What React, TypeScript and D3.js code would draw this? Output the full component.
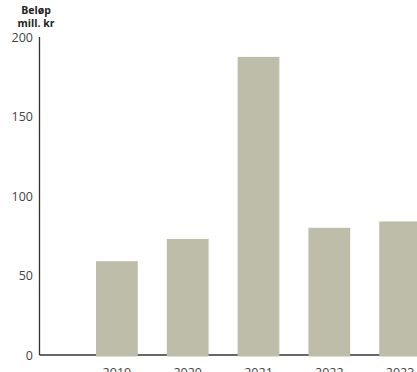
import React from "react";
import * as d3 from "d3";

const years = ["2019", "2020", "2021", "2022", "2023"];
const amounts = [59, 73, 187.5, 80, 84];
const yTicks = [0, 50, 100, 150, 200];
const titleLines = ["Beløp", "mill. kr"];

const W = 417;
const H = 372;

export default function App() {
  const y = d3.scaleLinear().domain([0, 200]).range([355, 37]);
  const x = d3
    .scaleBand<string>()
    .domain(years)
    .range([81.5, 435.5])
    .paddingInner(0.41)
    .paddingOuter(0.205);
  const axisX = 39.5;
  const font = "'Open Sans', Lato, sans-serif";

  return (
    <svg
      width={W}
      height={H}
      style={{ position: "absolute", left: 0, top: 0, background: "#fff" }}
    >
      {titleLines.map((t, i) => (
        <text
          key={t}
          x={36}
          y={14 + i * 13}
          textAnchor="middle"
          fontFamily={font}
          fontWeight={700}
          fontSize={10.5}
          fill="#222"
        >
          {t}
        </text>
      ))}
      {yTicks.map((t) => (
        <text
          key={t}
          x={33}
          y={y(t) + 4.5}
          textAnchor="end"
          fontFamily={font}
          fontSize={12.5}
          fill="#444"
        >
          {t}
        </text>
      ))}
      <line x1={axisX} x2={W} y1={y(0)} y2={y(0)} stroke="#333" strokeWidth={1.3} />
      <line x1={axisX} x2={axisX} y1={y(200)} y2={y(0)} stroke="#333" strokeWidth={1.3} />
      {years.map((yr, i) => (
        <rect
          key={yr}
          x={x(yr)}
          width={x.bandwidth()}
          y={y(amounts[i])}
          height={y(0) - y(amounts[i]) + 1.5}
          fill="#bebdaa"
        />
      ))}
      {years.map((yr) => (
        <text
          key={yr}
          x={(x(yr) ?? 0) + x.bandwidth() / 2}
          y={377}
          textAnchor="middle"
          fontFamily={font}
          fontSize={12.5}
          fill="#444"
        >
          {yr}
        </text>
      ))}
    </svg>
  );
}
